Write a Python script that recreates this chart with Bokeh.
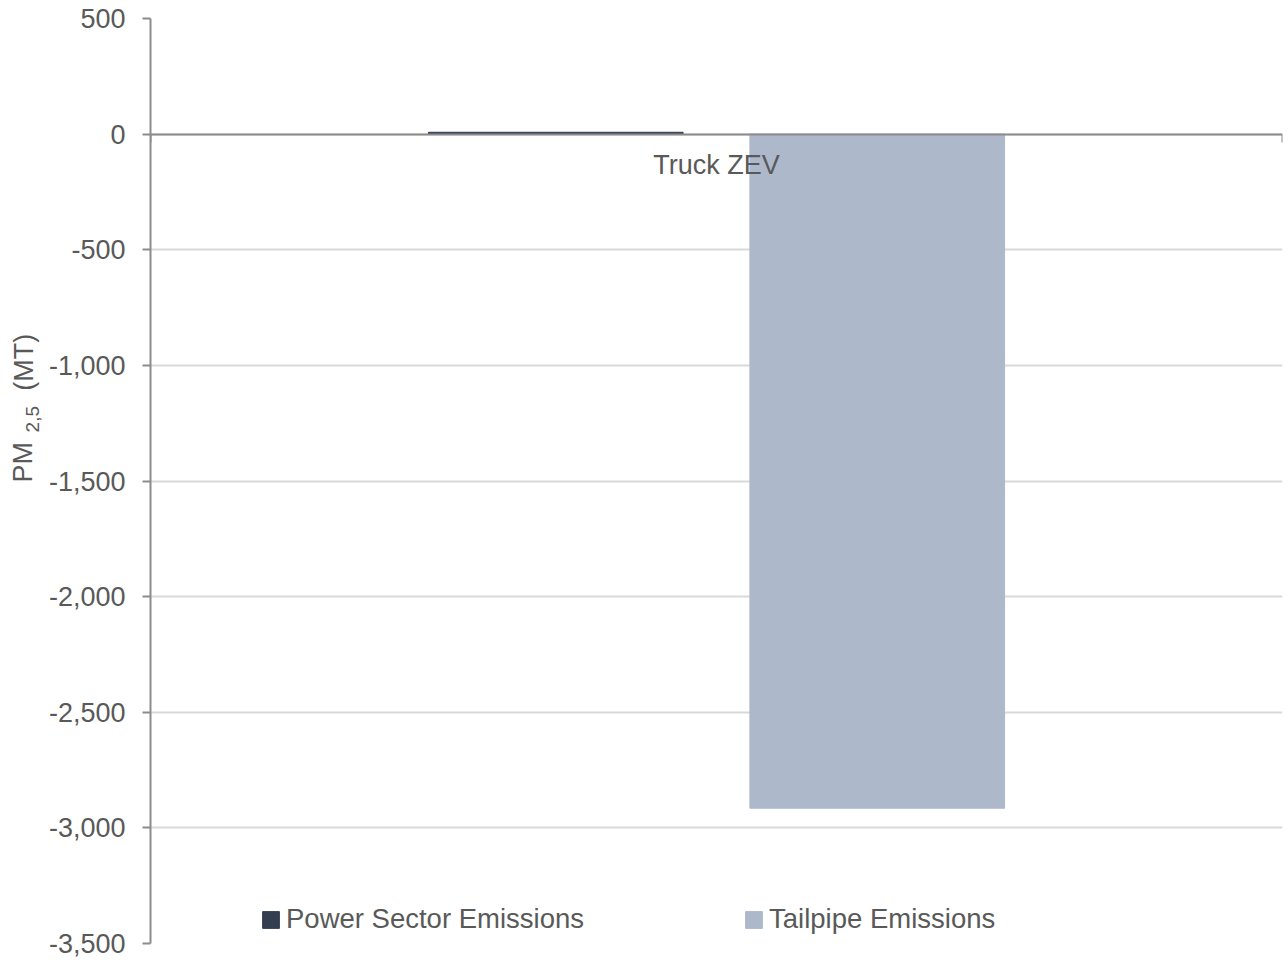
import math

from bokeh.plotting import figure
from bokeh.layouts import row
from bokeh.core.properties import value
from bokeh.models import (Range1d, FixedTicker, NumeralTickFormatter,
                          Legend, LegendItem, ColumnDataSource)
from bokeh.embed import file_html
from bokeh.resources import INLINE

# Emissions change for the truck ZEV scenario (metric tons of PM2.5)
categories = ["Truck ZEV"]
series_names = ["Power Sector Emissions", "Tailpipe Emissions"]
power_sector = [8]
tailpipe = [-2915]
y_ticks = [-3500, -3000, -2500, -2000, -1500, -1000, -500, 0, 500]

colors = ["#333F50", "#ADB9CA"]
text_color = "#595959"
axis_color = "#8C8C8C"
font = "Liberation Sans"

title_w = 45
y_range = Range1d(y_ticks[0], y_ticks[-1])

p = figure(width=1288 - title_w, height=965, output_backend="svg", toolbar_location=None,
           x_range=Range1d(0, len(categories)), y_range=y_range,
           min_border_left=149 - title_w, min_border_right=6, min_border_top=18, min_border_bottom=22)
p.outline_line_color = None
p.background_fill_color = "white"
p.border_fill_color = "white"

# grouped bars: two series side by side inside each category slot
bar_width = 0.225
offsets = [-0.142, 0.142]
renderers = []
for vals, off, col in zip([power_sector, tailpipe], offsets, colors):
    src = ColumnDataSource(dict(x=[i + 0.5 + off for i in range(len(categories))], top=vals))
    r = p.vbar(x="x", top="top", bottom=0, width=bar_width, source=src,
               fill_color=col, line_color=col, line_width=1)
    renderers.append(r)

# value axis
yax = p.yaxis[0]
yax.ticker = FixedTicker(ticks=y_ticks)
yax.formatter = NumeralTickFormatter(format="0,0")
yax.major_label_text_font = font
yax.major_label_text_font_size = "27px"
yax.major_label_text_color = text_color
yax.major_label_standoff = 17
yax.major_tick_out = 8
yax.major_tick_in = 0
yax.minor_tick_line_color = None
yax.axis_line_color = axis_color
yax.axis_line_width = 2
yax.major_tick_line_color = axis_color
yax.major_tick_line_width = 2

p.ygrid.ticker = FixedTicker(ticks=y_ticks)
p.ygrid.grid_line_color = "#D9D9D9"
p.ygrid.grid_line_width = 2
p.xgrid.grid_line_color = None

# category axis sits on the zero line
xax = p.xaxis[0]
xax.fixed_location = 0
xax.ticker = FixedTicker(ticks=[i + 0.5 for i in range(len(categories))],
                         minor_ticks=list(range(len(categories) + 1)))
xax.major_label_overrides = {i + 0.5: c for i, c in enumerate(categories)}
xax.major_tick_line_color = None
xax.major_tick_out = 0
xax.major_tick_in = 0
xax.minor_tick_out = 8
xax.minor_tick_in = 0
xax.minor_tick_line_color = axis_color
xax.minor_tick_line_width = 2
xax.axis_line_color = axis_color
xax.axis_line_width = 2
xax.major_label_standoff = 8
xax.major_label_text_font = font
xax.major_label_text_font_size = "27px"
xax.major_label_text_color = text_color

legend = Legend(items=[LegendItem(label=n, renderers=[r]) for n, r in zip(series_names, renderers)],
                orientation="horizontal", location=(110, 8),
                glyph_width=21, glyph_height=21, label_standoff=5, spacing=159,
                padding=0, margin=0, border_line_color=None, background_fill_alpha=0,
                label_text_font=font, label_text_font_size="27.5px", label_text_color=text_color)
p.add_layout(legend)

# narrow strip on the left carrying the vertical axis title "PM 2,5 (MT)"
t = figure(width=title_w, height=965, output_backend="svg", toolbar_location=None,
           x_range=Range1d(0, title_w), y_range=y_range,
           x_axis_location=None, y_axis_location=None,
           min_border_left=0, min_border_right=0, min_border_top=18, min_border_bottom=22)
t.outline_line_color = None
t.grid.grid_line_color = None
t.background_fill_color = "white"
t.border_fill_color = "white"
title_parts = ["PM", "2,5", "(MT)"]
title_sizes = ["27px", "19px", "27px"]
title_x = [22, 32, 23]
title_y = [-1506, -1290, -1110]
for txt, size, tx, ty in zip(title_parts, title_sizes, title_x, title_y):
    t.text(x=[tx], y=[ty], text=[txt], angle=math.pi / 2,
           text_font=value(font), text_font_size=size, text_color=text_color,
           text_align="left", text_baseline="middle")

layout = row(t, p, spacing=0)
open("out.html", "w").write(file_html(layout, INLINE))
